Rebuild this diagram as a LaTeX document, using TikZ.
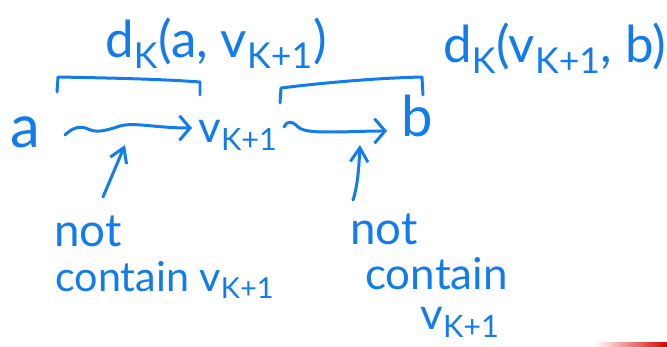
\documentclass[tikz,border=0pt]{standalone}
\usepackage{fontspec}
\setmainfont{Lato}
\usetikzlibrary{arrows.meta}
\definecolor{ink}{RGB}{18,124,238}
\begin{document}
\begin{tikzpicture}[x=0.02cm,y=-0.02cm,
  pen/.style={draw=ink,line width=1.7pt,line cap=round,line join=round},
  hand/.style={text=ink,inner sep=0pt,anchor=base west},
  barb/.style={-{Straight Barb[length=6pt,width=14pt]}},
  upbarb/.style={-{Straight Barb[length=8pt,width=10pt]}}]
\useasboundingbox (0,0) rectangle (667,347);
% labels
\node[hand,font=\fontsize{29}{34}\selectfont] (dA) at (105,58) {d\textsubscript{K}(a, v\textsubscript{K+1})};
\node[hand,font=\fontsize{29}{34}\selectfont] (dB) at (443,63) {d\textsubscript{K}(v\textsubscript{K+1}, b)};
\node[hand,font=\fontsize{34}{40}\selectfont] (a) at (10,148) {a};
\node[hand,font=\fontsize{25}{30}\selectfont] (v) at (198,143) {v\textsubscript{K+1}};
\node[hand,font=\fontsize{32}{38}\selectfont] (b) at (401,137) {b};
\node[hand,font=\fontsize{26}{32}\selectfont] (n1) at (54,247) {not};
\node[hand,font=\fontsize{23.5}{28}\selectfont] (c1) at (55,292) {contain v\textsubscript{K+1}};
\node[hand,font=\fontsize{26}{32}\selectfont] (n2) at (350,245) {not};
\node[hand,font=\fontsize{25}{30}\selectfont] (c2) at (365,290) {contain};
\node[hand,font=\fontsize{25}{30}\selectfont] (v2) at (420,330) {v\textsubscript{K+1}};
% brackets
\draw[pen] (57,92) -- (58,77) .. controls (110,78) and (160,79) .. (200,82) -- (200,95);
\draw[pen] (280,103) -- (281,88) .. controls (330,82) and (380,78) .. (422,77) -- (423,95);
% squiggly paths
\coordinate (s1) at (65,135);
\coordinate (e1) at (192,128);
\coordinate (s2) at (284,127);
\coordinate (e2) at (387,131);
\draw[pen,barb] (s1) .. controls (72,128) and (80,125) .. (88,129)
  .. controls (96,133) and (105,131) .. (120,126)
  .. controls (135,122) and (155,128) .. (e1);
\draw[pen,barb] (s2) .. controls (287,121) and (291,121) .. (296,125)
  .. controls (301,131) and (310,132) .. (330,132)
  .. controls (350,132) and (365,131) .. (e2);
% pointers
\coordinate (t1) at (103,197);
\coordinate (h1) at (125,145);
\coordinate (t2) at (353,200);
\coordinate (h2) at (360,145);
\draw[pen,upbarb] (t1) -- (h1);
\draw[pen,upbarb] (t2) .. controls (358,185) and (359,165) .. (h2);
% page edge mark
\shade[left color=white,right color=red!85!black] (595,343) rectangle (667,347);
\end{tikzpicture}
\end{document}
